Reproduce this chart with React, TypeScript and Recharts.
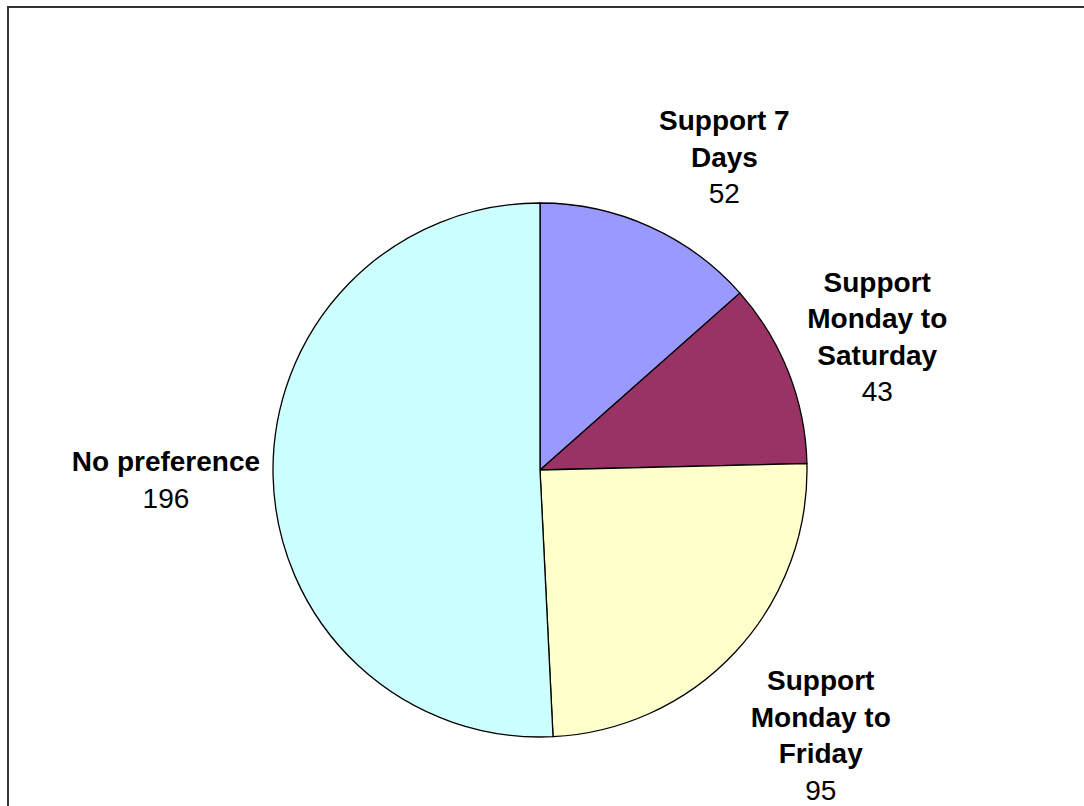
import React from 'react';
import { PieChart, Pie, Cell } from 'recharts';

const categories = ['Support 7 Days', 'Support Monday to Saturday', 'Support Monday to Friday', 'No preference'];
const labelLines = [['Support 7', 'Days'], ['Support', 'Monday to', 'Saturday'], ['Support', 'Monday to', 'Friday'], ['No preference']];
const values = [52, 43, 95, 196];
const colors = ['#9999FF', '#993366', '#FFFFCC', '#CCFFFF'];

const data = categories.map((name, i) => ({ name, value: values[i], lines: labelLines[i] }));

const FONT = "'Liberation Sans', Arial, sans-serif";
const FONT_SIZE = 28;
const LINE_H = 36.5;
const LABEL_GAP = 18;

let ctx: CanvasRenderingContext2D | null = null;
function textWidth(s: string, bold: boolean) {
  if (!ctx) ctx = document.createElement('canvas').getContext('2d');
  if (!ctx) return s.length * FONT_SIZE * 0.55;
  ctx.font = `${bold ? 'bold ' : ''}${FONT_SIZE}px ${FONT}`;
  return ctx.measureText(s).width;
}

const clamp = (v: number) => Math.max(-1, Math.min(1, v));

// Excel-like outside label: the block is pushed away from the anchor point
function renderLabel(props: any) {
  const { cx, cy, midAngle, outerRadius, payload, value } = props;
  const rad = (midAngle * Math.PI) / 180;
  const d = outerRadius + LABEL_GAP;
  const c = Math.cos(rad);
  const s = Math.sin(rad);
  const px = cx + d * c;
  const py = cy - d * s;
  const lines: string[] = payload.lines;
  const w = Math.max(...lines.map((l) => textWidth(l, true)), textWidth(String(value), false));
  const h = (lines.length + 1) * LINE_H;
  const bx = px + (w / 2) * clamp(3 * c) + (c > 0 ? 2 : 5);
  const by = py - (h / 2) * clamp((s > 0 ? 1.15 : 1.4) * s) + 2;
  const top = by - h / 2;
  return (
    <g>
      {lines.map((l, i) => (
        <text key={i} x={bx} y={top + (i + 0.5) * LINE_H} textAnchor="middle" dominantBaseline="central"
          fontFamily={FONT} fontSize={FONT_SIZE} fontWeight="bold" fill="#000">
          {l}
        </text>
      ))}
      <text x={bx} y={top + (lines.length + 0.5) * LINE_H} textAnchor="middle" dominantBaseline="central"
        fontFamily={FONT} fontSize={FONT_SIZE} fill="#000">
        {value}
      </text>
    </g>
  );
}

export default function App() {
  return (
    <div style={{ position: 'absolute', left: 0, top: 0, width: 1084, height: 806, overflow: 'hidden', background: '#fff' }}>
      <div style={{ position: 'absolute', left: 7, top: 6, width: 1200, height: 1000, border: '2px solid #333' }} />
      <div style={{ position: 'absolute', left: 0, top: 0 }}>
        <PieChart width={1084} height={806} margin={{ top: 0, right: 0, bottom: 0, left: 0 }}>
          <Pie
            data={data}
            dataKey="value"
            nameKey="name"
            cx={540}
            cy={470}
            outerRadius={267}
            startAngle={90}
            endAngle={-270}
            stroke="#000"
            strokeWidth={1.3}
            label={renderLabel}
            labelLine={false}
            isAnimationActive={false}
          >
            {data.map((d, i) => (
              <Cell key={d.name} fill={colors[i]} />
            ))}
          </Pie>
        </PieChart>
      </div>
    </div>
  );
}
